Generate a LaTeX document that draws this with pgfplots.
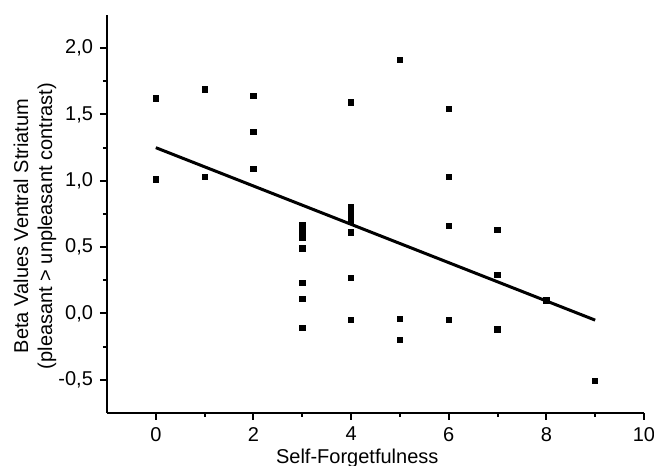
\documentclass[border=0pt]{standalone}
\usepackage{fontspec}
\setmainfont{Liberation Sans}
\usepackage{pgfplots}
\pgfplotsset{compat=1.18}
\begin{document}
\begin{tikzpicture}
\begin{axis}[
  scale only axis,
  width=268.5pt, height=199pt,
  xmin=-1, xmax=10, ymin=-0.75, ymax=2.25,
  axis lines*=left,
  axis line style={-, line width=1pt},
  every tick/.style={black, line width=1pt},
  tick align=outside,
  major tick length=3.5pt,
  minor tick length=2pt,
  xtick={0,2,4,6,8,10},
  ytick={-0.5,0,0.5,1,1.5,2},
  minor tick num=1,
  /pgf/number format/assume math mode=true,
  yticklabel style={/pgf/number format/.cd, fixed, fixed zerofill, precision=1, use comma},
  xticklabel style={/pgf/number format/.cd, fixed, precision=0},
  ticklabel style={font=\fontsize{10}{12}\selectfont},
  xlabel={Self-Forgetfulness},
  ylabel={Beta Values Ventral Striatum\\(pleasant > unpleasant contrast)},
  ylabel style={align=center, at={(axis description cs:-0.134,0.47)}, anchor=center, font=\fontsize{10}{12}\selectfont},
  xlabel style={font=\fontsize{10}{12}\selectfont, at={(axis description cs:0.466,0)}, anchor=base, yshift=-25.3pt},
  clip=false,
]
\addplot[only marks, mark=square*, mark size=1.35pt, black] coordinates {
  (0,1.62) (0,1.01)
  (1,1.69) (1,1.03)
  (2,1.64) (2,1.37) (2,1.09)
  (3,0.67) (3,0.62) (3,0.57) (3,0.49) (3,0.23) (3,0.11) (3,-0.11)
  (4,1.59) (4,0.80) (4,0.75) (4,0.72) (4,0.69) (4,0.61) (4,0.27) (4,-0.05)
  (5,1.91) (5,-0.04) (5,-0.20)
  (6,1.54) (6,1.03) (6,0.66) (6,-0.05)
  (7,0.63) (7,0.29) (7,-0.12)
  (8,0.10)
  (9,-0.51)
};
\addplot[black, line width=1.5pt, no marks] coordinates {(0,1.25) (9,-0.05)};
\end{axis}
\pgfresetboundingbox
\path ([xshift=-53.5pt,yshift=-26.5pt]current axis.south west) rectangle ([xshift=5pt,yshift=7.5pt]current axis.north east);
\end{tikzpicture}
\end{document}
